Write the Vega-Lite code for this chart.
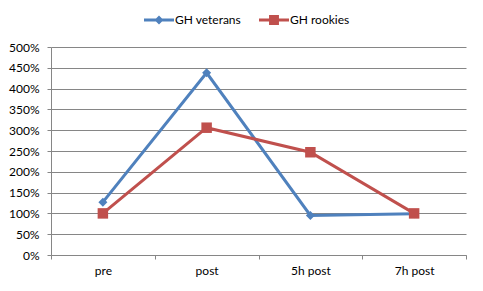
{
  "$schema": "https://vega.github.io/schema/vega-lite/v6.json",
  "width": 415,
  "height": 208,
  "autosize": {"type": "none"},
  "padding": {"left": 51, "top": 47, "right": 17, "bottom": 36},
  "background": "white",
  "config": {"view": {"stroke": null}, "font": "Lato"},
  "data": {"values": [
    {"series": "GH veterans", "time": "pre", "value": 1.27},
    {"series": "GH veterans", "time": "post", "value": 4.38},
    {"series": "GH veterans", "time": "5h post", "value": 0.95},
    {"series": "GH veterans", "time": "7h post", "value": 0.99},
    {"series": "GH rookies", "time": "pre", "value": 1.0},
    {"series": "GH rookies", "time": "post", "value": 3.06},
    {"series": "GH rookies", "time": "5h post", "value": 2.47},
    {"series": "GH rookies", "time": "7h post", "value": 1.0}
  ]},
  "encoding": {
    "x": {"field": "time", "type": "nominal", "sort": ["pre", "post", "5h post", "7h post"],
      "scale": {"type": "band", "paddingInner": 0, "paddingOuter": 0},
      "axis": {"title": null, "labelAngle": 0, "tickBand": "extent", "grid": false, "domainColor": "#868686", "tickColor": "#868686", "tickSize": 4, "labelPadding": 6, "labelFontSize": 12, "labelColor": "#000000", "labelFont": "Lato"}},
    "y": {"field": "value", "type": "quantitative",
      "scale": {"domain": [0, 5], "nice": false},
      "axis": {"title": null, "values": [0, 0.5, 1, 1.5, 2, 2.5, 3, 3.5, 4, 4.5, 5], "format": ".0%", "grid": true, "gridColor": "#868686", "gridWidth": 1, "domainColor": "#868686", "tickColor": "#868686", "tickSize": 4, "labelPadding": 8, "labelFontSize": 12, "labelColor": "#000000", "labelFont": "Lato"}}
  },
  "layer": [
    {"transform": [{"filter": "datum.series === 'GH veterans'"}], "mark": {"type": "line", "color": "#4F81BD", "strokeWidth": 3}},
    {"transform": [{"filter": "datum.series === 'GH veterans'"}], "mark": {"type": "point", "shape": "diamond", "filled": true, "opacity": 1, "color": "#4F81BD", "size": 81}},
    {"transform": [{"filter": "datum.series === 'GH rookies'"}], "mark": {"type": "line", "color": "#C0504D", "strokeWidth": 3}},
    {"transform": [{"filter": "datum.series === 'GH rookies'"}], "mark": {"type": "point", "shape": "square", "filled": true, "opacity": 1, "color": "#C0504D", "size": 110}},
    {"mark": {"type": "point", "opacity": 0, "filled": true, "strokeWidth": 0},
      "encoding": {
        "fill": {"field": "series", "type": "nominal", "scale": {"domain": ["GH veterans", "GH rookies"], "range": ["#4F81BD", "#C0504D"]},
          "legend": {"orient": "none", "direction": "horizontal", "legendX": 93, "legendY": -42, "title": null, "symbolSize": 900, "symbolStrokeWidth": 0, "labelOffset": 1, "columnPadding": 17, "labelFontSize": 12, "labelFont": "Lato", "labelColor": "#000000", "padding": 0,
            "encode": {"symbols": {"update": {"fill": {"scale": "fill", "field": "value"}, "opacity": {"value": 1}, "fillOpacity": {"value": 1}}}}}},
        "shape": {"field": "series", "type": "nominal", "scale": {"domain": ["GH veterans", "GH rookies"], "range": ["M-1,-0.1L1,-0.1L1,0.1L-1,0.1Z M0,-0.3L0.3,0L0,0.3L-0.3,0Z", "M-1,-0.1L1,-0.1L1,0.1L-1,0.1Z M-0.33,-0.33L0.33,-0.33L0.33,0.33L-0.33,0.33Z"]},
          "legend": {"orient": "none", "direction": "horizontal", "legendX": 93, "legendY": -42, "title": null, "symbolSize": 900, "symbolStrokeWidth": 0, "labelOffset": 1, "columnPadding": 17, "labelFontSize": 12, "labelFont": "Lato", "labelColor": "#000000", "padding": 0,
            "encode": {"symbols": {"update": {"fill": {"scale": "fill", "field": "value"}, "opacity": {"value": 1}, "fillOpacity": {"value": 1}}}}}}
      }}
  ]
}
